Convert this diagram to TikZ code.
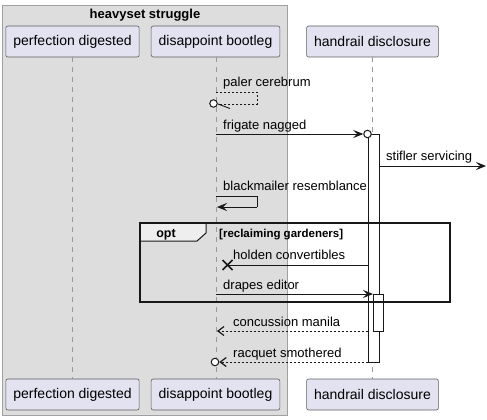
\documentclass[tikz,border=0pt]{standalone}
\usepackage{fontspec}
\setmainfont{Liberation Sans}
\usetikzlibrary{arrows.meta}
\definecolor{partfill}{HTML}{E2E2F0}
\definecolor{partdraw}{HTML}{181818}
\definecolor{grpfill}{HTML}{DDDDDD}
\definecolor{grpdraw}{HTML}{A0A0A0}
\definecolor{tabfill}{HTML}{EEEEEE}
\definecolor{lineclr}{HTML}{181818}
\begin{document}
\begin{tikzpicture}[x=1pt,y=-1pt,
  part/.style={draw=partdraw!70, fill=partfill, rounded corners=2pt, line width=0.6pt,
    minimum height=31pt, inner xsep=7.5pt, inner ysep=0pt,
    font=\fontsize{14}{16}\selectfont},
  life/.style={draw=gray!80, line width=0.6pt, dash pattern=on 5pt off 5pt},
  msg/.style={draw=lineclr, line width=0.9pt},
  dmsg/.style={draw=lineclr, line width=0.9pt, dash pattern=on 2pt off 2pt},
  filltip/.style={-{Stealth[length=10pt,width=8pt,inset=4pt]}},
  opentip/.style={-{Straight Barb[length=6pt,width=9pt,line width=1.2pt]}},
  lbl/.style={anchor=base west, inner sep=0pt, font=\fontsize{13}{15}\selectfont},
  actbar/.style={draw=lineclr, fill=white, line width=0.9pt, minimum width=11pt, inner sep=0pt, anchor=north west},
  endcirc/.style={draw=lineclr, fill=white, line width=1pt, circle, minimum size=7.5pt, inner sep=0pt}
]
\useasboundingbox (0,0) rectangle (487,420);
% group
\draw[fill=grpfill, draw=grpdraw, line width=0.8pt] (2,5) rectangle (287,415);
\node[anchor=base, inner sep=0pt, font=\bfseries\fontsize{13}{15}\selectfont] (grptitle) at (145,19) {heavyset struggle};
% participants
\node[part] (pdT) at (72.5,41.5) {perfection digested};
\node[part] (dbT) at (215.5,41.5) {disappoint bootleg};
\node[part] (hdT) at (372.5,41.5) {handrail disclosure};
\node[part] (pdB) at (72.5,394.5) {perfection digested};
\node[part] (dbB) at (215.5,394.5) {disappoint bootleg};
\node[part] (hdB) at (372.5,394.5) {handrail disclosure};
% lifelines
\draw[life] (72,57) -- (72,379);
\draw[life] (216,57) -- (216,379);
\draw[life] (372,57) -- (372,379);
% activation bars
\node[actbar, minimum height=228pt] (bar1) at (368,134) {};
\node[actbar, minimum width=10pt, minimum height=37pt] (bar2) at (373,294) {};
% coordinates
\coordinate (db92) at (216,92);
\coordinate (sr92) at (257,92);
\coordinate (sr104) at (257,104);
\coordinate (db104) at (218,104);
\node[endcirc] (c1) at (213.5,103.5) {};
\coordinate (db134) at (216,134);
\node[endcirc] (c2) at (367.5,134) {};
\coordinate (out166) at (486,166);
\coordinate (db196) at (216,196);
\coordinate (sr196) at (257,196);
\coordinate (sr207) at (257,207);
\coordinate (db207) at (217,207);
\coordinate (xx) at (227.5,265);
\coordinate (db294) at (216,294);
\coordinate (db331) at (217,331);
\node[endcirc] (c3) at (215,362) {};
% messages
\draw[dmsg] (db92) -- (sr92) -- (sr104) -- (db104);
\draw[msg] (db104) -- (230,108.5);
\node[lbl] (t1) at (223,86) {paler cerebrum};

\draw[msg, filltip] (db134) -- (c2.west);
\node[lbl] (t2) at (223,129) {frigate nagged};

\draw[msg, filltip] (bar1.east |- out166) -- (out166);
\node[lbl] (t3) at (386,160.5) {stifler servicing};

\draw[msg] (db196) -- (sr196) -- (sr207);
\draw[msg, filltip] (sr207) -- (db207);
\node[lbl] (t4) at (223,190.5) {blackmailer resemblance};

% opt frame
\draw[fill=tabfill, draw=lineclr, line width=1pt] (140,223) -- (206,223) -- (206,233) -- (197,241) -- (140,241) -- cycle;
\node[anchor=base, inner sep=0pt, font=\bfseries\fontsize{12.5}{14}\selectfont] (optlbl) at (166,237.5) {opt};
\node[anchor=base west, inner sep=0pt, font=\bfseries\fontsize{11.5}{13}\selectfont] (cond) at (219,237) {[reclaiming gardeners]};

\draw[msg] (bar1.west |- xx) -- (xx);
\draw[line width=1.6pt, draw=lineclr] (222.5,260) -- (232.5,270) (222.5,270) -- (232.5,260);
\node[lbl] (t5) at (233,259.5) {holden convertibles};

\draw[msg, filltip] (db294) -- (bar2.west |- db294);
\node[lbl] (t6) at (223,289) {drapes editor};

\draw[line width=1.6pt, draw=lineclr] (140,223) rectangle (450,302);

\draw[dmsg, opentip] (bar1.west |- db331) -- (db331);
\node[lbl] (t7) at (233,326) {concussion manila};

\draw[dmsg, opentip] (bar1.west |- c3) -- (c3.east);
\node[lbl] (t8) at (233,357) {racquet smothered};
\end{tikzpicture}
\end{document}
